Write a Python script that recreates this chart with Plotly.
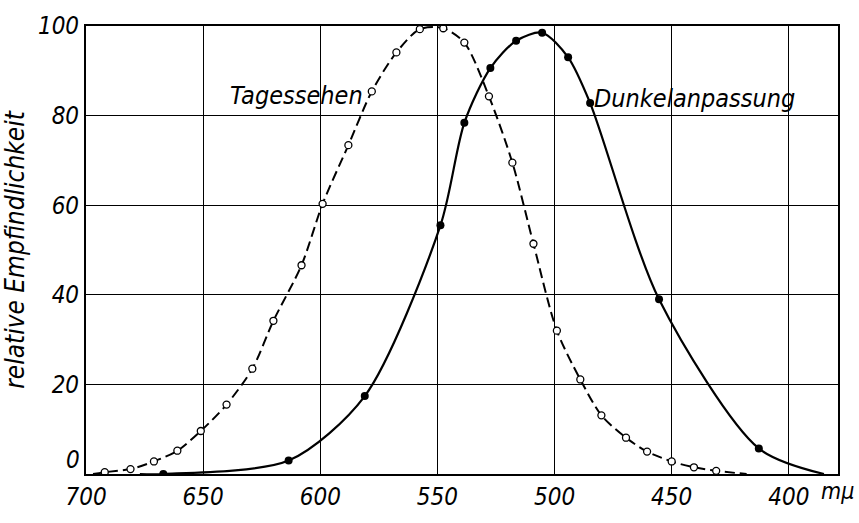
import plotly.graph_objects as go

# Tagessehen (photopic, open circles, dashed)
tag_x = [692, 681, 671, 661, 651, 640, 629, 620, 608, 599, 588, 578, 567.5, 557.5,
         547.5, 538.5, 528, 518, 509, 499, 489, 480, 469.5, 460.5, 450, 440.5, 431]
tag_y = [0.4, 1.1, 2.8, 5.2, 9.6, 15.5, 23.5, 34.2, 46.6, 60.3, 73.4, 85.4, 94.1, 99.3,
         99.5, 96.3, 84.3, 69.5, 51.4, 32, 21.1, 13.1, 8.1, 5.0, 2.8, 1.5, 0.7]
tag_line_x = [697] + tag_x + [418]
tag_line_y = [0] + tag_y + [0]

# Dunkelanpassung (scotopic, filled dots, solid)
dun_x = [667, 613.5, 581, 548.7, 538.5, 527.4, 516.4, 505.3, 494.2, 484.8, 455.4, 412.8]
dun_y = [0, 3, 17.4, 55.5, 78.4, 90.6, 96.7, 98.5, 93, 82.8, 39, 5.7]
dun_line_x = [677] + dun_x + [385]
dun_line_y = [0] + dun_y + [0]

x_ticks = [700, 650, 600, 550, 500, 450, 400]
y_ticks = [0, 20, 40, 60, 80, 100]
y_ticktext = ["", "20", "40", "60", "80", "100"]

FONT = "DejaVu Sans Condensed, Liberation Sans Narrow, sans-serif"

fig = go.Figure()
fig.add_trace(go.Scatter(x=tag_line_x, y=tag_line_y, mode="lines",
                         line=dict(color="black", width=2, dash="10px,5px", shape="spline", smoothing=0.8),
                         hoverinfo="skip", showlegend=False))
fig.add_trace(go.Scatter(x=dun_line_x, y=dun_line_y, mode="lines",
                         line=dict(color="black", width=2.2, shape="spline", smoothing=0.8),
                         hoverinfo="skip", showlegend=False))
fig.add_trace(go.Scatter(x=tag_x, y=tag_y, mode="markers",
                         marker=dict(symbol="circle", size=7, color="white",
                                     line=dict(color="black", width=1.3)),
                         showlegend=False))
fig.add_trace(go.Scatter(x=dun_x, y=dun_y, mode="markers",
                         marker=dict(symbol="circle", size=8, color="black"),
                         showlegend=False))

fig.add_annotation(x=581, y=84.5, xref="x", yref="y", text="Tagessehen", showarrow=False,
                   xanchor="right", yanchor="middle",
                   font=dict(family=FONT, size=25, color="black", style="italic"))
fig.add_annotation(x=484, y=83, xref="x", yref="y", text="Dunkelanpassung", showarrow=False,
                   xanchor="left", yanchor="bottom", yshift=-13,
                   font=dict(family=FONT, size=25, color="black", style="italic"))
fig.add_annotation(x=0, y=0, xref="paper", yref="y", text="0", showarrow=False,
                   xanchor="right", yanchor="bottom", xshift=-4, yshift=-2,
                   font=dict(family=FONT, size=24, color="black", style="italic"))
fig.add_annotation(x=1.0, y=0, xref="paper", yref="paper", text="mμ", showarrow=False,
                   xanchor="right", yanchor="top", xshift=18, yshift=-2,
                   font=dict(family=FONT, size=23, color="black", style="italic"))

fig.update_xaxes(range=[700, 379], tickvals=x_ticks, ticktext=[str(v) for v in x_ticks],
                 showgrid=True, gridcolor="black", gridwidth=1.3,
                 showline=True, linecolor="black", linewidth=2.2, mirror=True,
                 ticks="", zeroline=False,
                 tickfont=dict(family=FONT, size=24, color="black", style="italic"))
fig.update_yaxes(range=[0, 100], tickvals=y_ticks, ticktext=y_ticktext,
                 showgrid=True, gridcolor="black", gridwidth=1.3,
                 showline=True, linecolor="black", linewidth=2.2, mirror=True,
                 ticks="", zeroline=False,
                 title=dict(text="relative Empfindlichkeit", standoff=6,
                            font=dict(family=FONT, size=26, color="black", style="italic")),
                 tickfont=dict(family=FONT, size=24, color="black", style="italic"))

fig.update_layout(width=859, height=523, plot_bgcolor="white", paper_bgcolor="white",
                  margin=dict(l=86, r=21, t=25, b=39))
fig.write_html("out.html", config={"displayModeBar": False},
               post_script="document.body.style.margin='0';document.body.style.overflow='hidden';")
